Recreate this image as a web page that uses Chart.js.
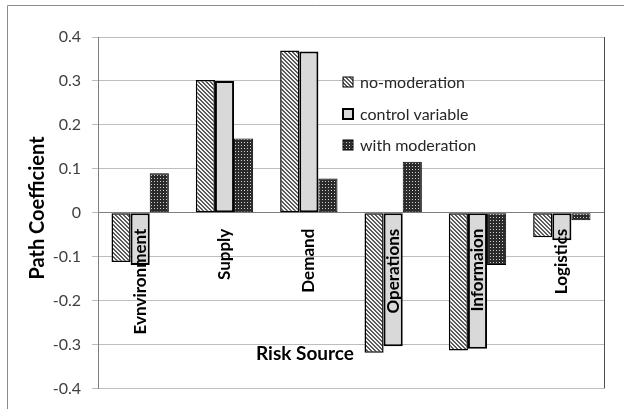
<!DOCTYPE html>
<html>
<head>
<meta charset="utf-8">
<script src="https://cdn.jsdelivr.net/npm/chart.js@4.4.0/dist/chart.umd.min.js"></script>
<style>
    html, body { margin: 0; padding: 0; background: #fff; }
    canvas { display: block; }
</style>
</head>
<body>
<canvas id="chart" width="624" height="409"></canvas>
<script>
const categories = ['Evnvironment', 'Supply', 'Demand', 'Operations', 'Informaion', 'Logistics'];
const seriesNames = ['no-moderation', 'control variable', 'with moderation'];
const noModeration = [-0.112, 0.302, 0.369, -0.319, -0.314, -0.056];
const controlVariable = [-0.119, 0.300, 0.367, -0.304, -0.310, -0.063];
const withModeration = [0.090, 0.169, 0.078, 0.116, -0.119, -0.017];
const yMin = -0.4, yMax = 0.4, yStep = 0.1;
const xTitle = 'Risk Source';
const yTitle = 'Path Coefficient';

const FONT = 'Lato, "Open Sans", sans-serif';

// small tile patterns for the bar fills
function makePattern(size, bg, fg, cells) {
    const c = document.createElement('canvas');
    c.width = size; c.height = size;
    const g = c.getContext('2d');
    g.fillStyle = bg;
    g.fillRect(0, 0, size, size);
    g.fillStyle = fg;
    cells.forEach(([x, y]) => g.fillRect(x, y, 1, 1));
    return g.createPattern(c, 'repeat');
}

const ctx = document.getElementById('chart').getContext('2d');
const hatch = makePattern(4, '#f4f4f4', '#5a5a5a',
    [[0, 0], [1, 1], [2, 2], [3, 3], [1, 0], [2, 1], [3, 2], [0, 3]]);
const dots = makePattern(3, '#2b2b2b', '#d0d0d0', [[1, 1]]);
const fills = [hatch, '#d9d9d9', dots];
const borders = [1.5, 2, 1];

// frame, titles, legend and right border of the plot
const decorations = {
    id: 'decorations',
    beforeDraw(chart) {
        const c = chart.ctx;
        c.save();
        c.strokeStyle = '#8c8c8c';
        c.lineWidth = 1;
        c.beginPath();
        c.moveTo(7.5, 409); c.lineTo(7.5, 5.5); c.lineTo(624, 5.5);
        c.stroke();
        c.restore();
    },
    afterDraw(chart) {
        const c = chart.ctx;
        const area = chart.chartArea;
        c.save();
        c.strokeStyle = '#4d4d4d';
        c.lineWidth = 1;
        c.beginPath();
        c.moveTo(Math.round(area.right) + 0.5, area.top);
        c.lineTo(Math.round(area.right) + 0.5, area.bottom);
        c.stroke();

        c.fillStyle = '#000';
        c.font = 'bold 19px ' + FONT;
        c.textAlign = 'center';
        c.textBaseline = 'middle';
        c.fillText(xTitle, 305, 354);

        c.font = 'bold 20px ' + FONT;
        c.translate(38, 208);
        c.rotate(-Math.PI / 2);
        c.fillText(yTitle, 0, 0);
        c.setTransform(1, 0, 0, 1, 0, 0);

        // legend
        c.font = '16px ' + FONT;
        c.textAlign = 'left';
        const rows = [82, 114, 145];
        seriesNames.forEach((name, i) => {
            const y = rows[i];
            c.fillStyle = fills[i];
            c.fillRect(343, y - 5, 10, 10);
            c.strokeStyle = '#000';
            c.lineWidth = i === 1 ? 2 : 1;
            c.strokeRect(343, y - 5, 10, 10);
            c.fillStyle = '#262626';
            c.fillText(name, 360, y + 1);
        });
        c.restore();
    }
};

new Chart(ctx, {
    type: 'bar',
    data: {
        labels: categories,
        datasets: [noModeration, controlVariable, withModeration].map((values, i) => ({
            label: seriesNames[i],
            data: values,
            backgroundColor: fills[i],
            borderColor: '#000',
            borderWidth: borders[i],
            borderSkipped: false,
            categoryPercentage: 0.68,
            barPercentage: 1
        }))
    },
    options: {
        responsive: false,
        animation: false,
        layout: { padding: { top: 37, right: 20, bottom: 20, left: 0 } },
        plugins: {
            legend: { display: false },
            tooltip: { enabled: false }
        },
        scales: {
            x: {
                position: { y: 0 },
                grid: { display: false },
                border: { display: true, color: '#7f7f7f', width: 1 },
                ticks: {
                    z: 1,
                    autoSkip: false,
                    minRotation: 90,
                    maxRotation: 90,
                    padding: 8,
                    color: '#000',
                    font: { family: FONT, size: 17, weight: 'bold' }
                }
            },
            y: {
                min: yMin,
                max: yMax,
                afterFit: scale => { scale.width = 98; },
                grid: { color: '#bdbdbd', tickLength: 6, drawTicks: true },
                border: { color: '#7f7f7f' },
                ticks: {
                    stepSize: yStep,
                    padding: 11,
                    color: '#404040',
                    font: { family: FONT, size: 16 },
                    callback: v => String(Number(v.toFixed(1)))
                }
            }
        }
    },
    plugins: [decorations]
});
</script>
</body>
</html>
